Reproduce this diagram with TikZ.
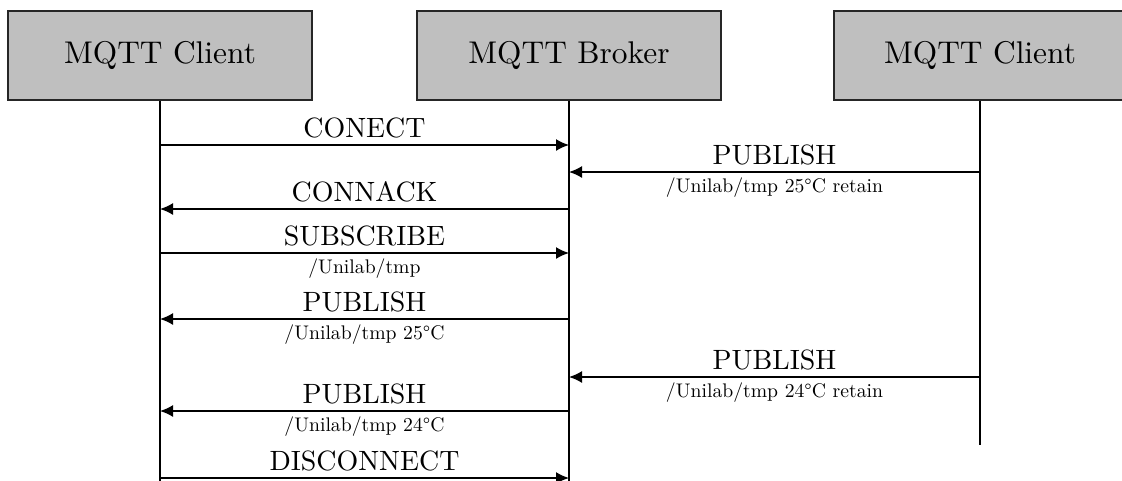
\documentclass[tikz,border=0pt]{standalone}
\usepackage{graphicx}
\usetikzlibrary{arrows.meta}
% text set at 10pt and enlarged, so the strokes keep their weight
\newcommand\mqhead[1]{\scalebox{3.14}{#1}}
\newcommand\mqlabel[1]{\scalebox{2.79}{#1}}
\newcommand\mqsub[1]{\scalebox{1.97}{#1}}
\begin{document}
\begin{tikzpicture}[x=1pt,y=-1pt,
  actor/.style={draw=black!85,line width=1.5pt,fill=black!25,minimum height=89pt,
    inner sep=0pt},
  life/.style={line width=1.3pt},
  msg/.style={line width=1.6pt,-{Latex[length=13pt,width=12pt]}},
  lbl/.style={anchor=base,yshift=8pt,inner sep=0pt},
  sub/.style={anchor=base,yshift=-20pt,inner sep=0pt}]
\useasboundingbox (0,0) rectangle (1122,480);

% participants
\node[actor,minimum width=304pt] (c1) at (160,55.5) {\mqhead{MQTT Client}};
\node[actor,minimum width=304pt] (br) at (569,55.5) {\mqhead{MQTT Broker}};
\node[actor,minimum width=292pt] (c2) at (980,55.5) {\mqhead{MQTT Client}};

% lifelines
\coordinate (c1end) at (160,482);
\coordinate (brend) at (569,482);
\coordinate (c2end) at (980,445);
\draw[life] (c1.south) -- (c1end);
\draw[life] (br.south) -- (brend);
\draw[life] (c2.south) -- (c2end);

% messages
\draw[msg] (c1 |- 0,145) -- node[lbl,midway] {\mqlabel{CONECT}} (br |- 0,145);
\draw[msg] (c2 |- 0,172) -- node[lbl,midway] {\mqlabel{PUBLISH}}
  node[sub,midway] {\mqsub{/Unilab/tmp 25°C retain}} (br |- 0,172);
\draw[msg] (br |- 0,209) -- node[lbl,midway] {\mqlabel{CONNACK}} (c1 |- 0,209);
\draw[msg] (c1 |- 0,253) -- node[lbl,midway] {\mqlabel{SUBSCRIBE}}
  node[sub,midway] {\mqsub{/Unilab/tmp}} (br |- 0,253);
\draw[msg] (br |- 0,319) -- node[lbl,midway] {\mqlabel{PUBLISH}}
  node[sub,midway] {\mqsub{/Unilab/tmp 25°C}} (c1 |- 0,319);
\draw[msg] (c2 |- 0,377) -- node[lbl,midway] {\mqlabel{PUBLISH}}
  node[sub,midway] {\mqsub{/Unilab/tmp 24°C retain}} (br |- 0,377);
\draw[msg] (br |- 0,411) -- node[lbl,midway] {\mqlabel{PUBLISH}}
  node[sub,midway] {\mqsub{/Unilab/tmp 24°C}} (c1 |- 0,411);
\draw[msg] (c1 |- 0,478) -- node[lbl,midway] {\mqlabel{DISCONNECT}} (br |- 0,478);
\end{tikzpicture}
\end{document}
